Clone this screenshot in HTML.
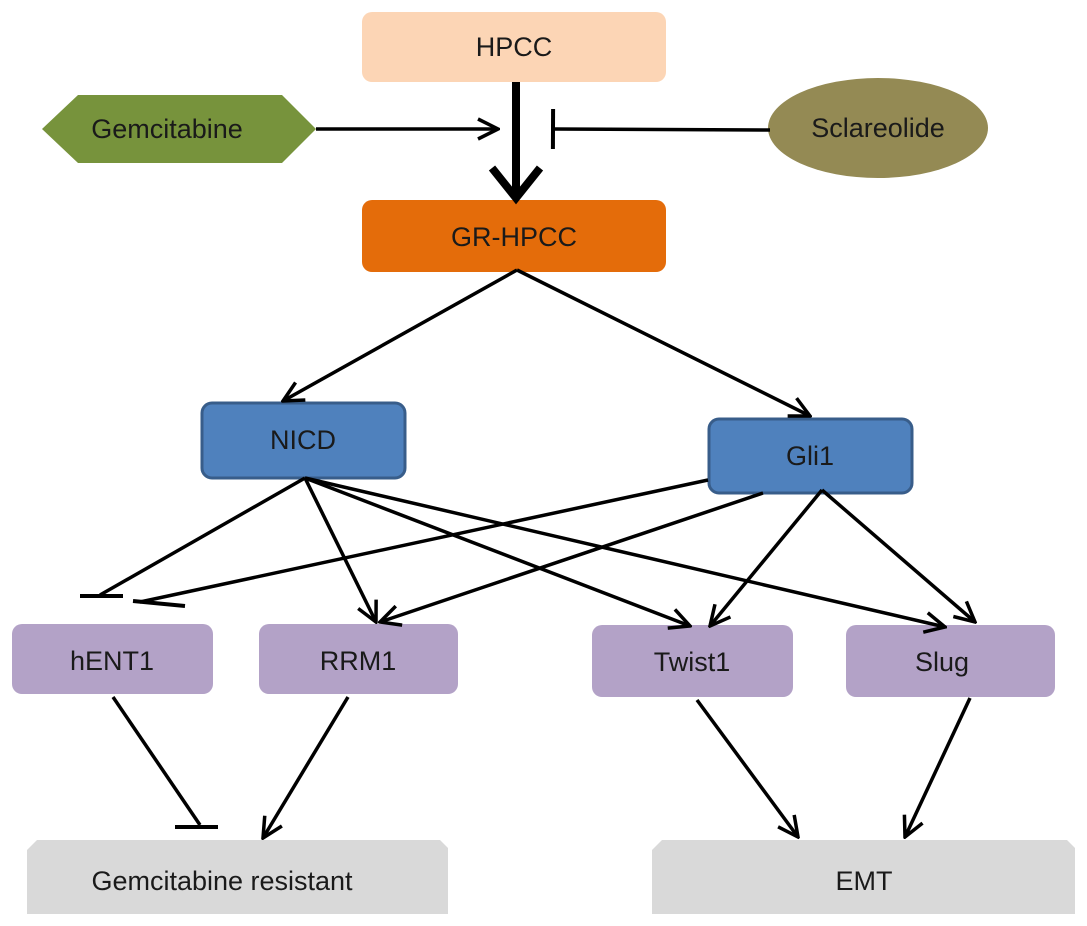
<!DOCTYPE html>
<html><head><style>
body{margin:0;background:#fff;}
svg{display:block;}
text{font-family:"Liberation Sans",Arial,sans-serif;font-size:27px;fill:#1a1a1a;text-anchor:middle;dominant-baseline:central;}
</style></head><body>
<svg width="1087" height="926" viewBox="0 0 1087 926">
<defs>
<marker id="a" viewBox="0 0 24 24" refX="22" refY="12" markerWidth="24" markerHeight="24" markerUnits="userSpaceOnUse" orient="auto">
<path d="M2,2 L22,12 L2,22" fill="none" stroke="#000" stroke-width="3.5"/></marker>
<marker id="b" viewBox="0 0 20 40" refX="3" refY="20" markerWidth="20" markerHeight="40" markerUnits="userSpaceOnUse" orient="auto">
<path d="M3,0 L3,40" stroke="#000" stroke-width="4"/></marker>
</defs>
<rect x="362" y="12" width="304" height="70" rx="10" fill="#fcd5b5"/>
<text x="514" y="47">HPCC</text>
<polygon points="42,129 78,95 282,95 316,129 282,163 78,163" fill="#77933c"/>
<text x="167" y="129">Gemcitabine</text>
<ellipse cx="878" cy="128" rx="110" ry="50" fill="#948a54"/>
<text x="878" y="128">Sclareolide</text>
<rect x="362" y="200" width="304" height="72" rx="10" fill="#e46c0a"/>
<text x="514" y="237">GR-HPCC</text>
<rect x="202" y="403" width="203" height="75" rx="10" fill="#4f81bd" stroke="#385d8a" stroke-width="3"/>
<text x="303" y="440">NICD</text>
<rect x="709" y="419" width="203" height="74" rx="10" fill="#4f81bd" stroke="#385d8a" stroke-width="3"/>
<text x="810" y="456">Gli1</text>
<rect x="12" y="624" width="201" height="70" rx="10" fill="#b3a2c7"/>
<text x="112" y="661">hENT1</text>
<rect x="259" y="624" width="199" height="70" rx="10" fill="#b3a2c7"/>
<text x="358" y="661">RRM1</text>
<rect x="592" y="625" width="201" height="72" rx="10" fill="#b3a2c7"/>
<text x="692" y="662">Twist1</text>
<rect x="846" y="625" width="209" height="72" rx="10" fill="#b3a2c7"/>
<text x="942" y="662">Slug</text>
<polygon points="37,840 440,840 448,848 448,914 27,914 27,850" fill="#d9d9d9"/>
<text x="222" y="881">Gemcitabine resistant</text>
<polygon points="662,840 1067,840 1075,848 1075,914 652,914 652,850" fill="#d9d9d9"/>
<text x="864" y="881">EMT</text>
<g stroke="#000" stroke-width="3.5" fill="none">
<line x1="516" y1="82" x2="516" y2="196" stroke-width="8" />
<path d="M492,168 L516,198 L540,168" stroke-width="8"/>
<line x1="316" y1="129" x2="498" y2="129" marker-end="url(#a)"/>
<line x1="770" y1="130" x2="553" y2="129" marker-end="url(#b)"/>
<line x1="517" y1="270" x2="283" y2="401" marker-end="url(#a)"/>
<line x1="517" y1="270" x2="810" y2="416" marker-end="url(#a)"/>
<line x1="305" y1="478" x2="100" y2="595" />
<line x1="80" y1="596" x2="123" y2="596" stroke-width="4"/>
<line x1="708" y1="480" x2="140" y2="602"/>
<line x1="133" y1="601" x2="185" y2="606" stroke-width="4"/>
<line x1="305" y1="478" x2="376" y2="622" marker-end="url(#a)"/>
<line x1="763" y1="493" x2="380" y2="622" marker-end="url(#a)"/>
<line x1="305" y1="478" x2="690" y2="626" marker-end="url(#a)"/>
<line x1="305" y1="478" x2="945" y2="627" marker-end="url(#a)"/>
<line x1="822" y1="490" x2="710" y2="626" marker-end="url(#a)"/>
<line x1="822" y1="490" x2="975" y2="622" marker-end="url(#a)"/>
<line x1="113" y1="697" x2="200" y2="825"/>
<line x1="175" y1="827" x2="218" y2="827" stroke-width="4"/>
<line x1="348" y1="697" x2="263" y2="838" marker-end="url(#a)"/>
<line x1="697" y1="700" x2="798" y2="837" marker-end="url(#a)"/>
<line x1="970" y1="698" x2="905" y2="837" marker-end="url(#a)"/>
</g>
</svg>
</body></html>
